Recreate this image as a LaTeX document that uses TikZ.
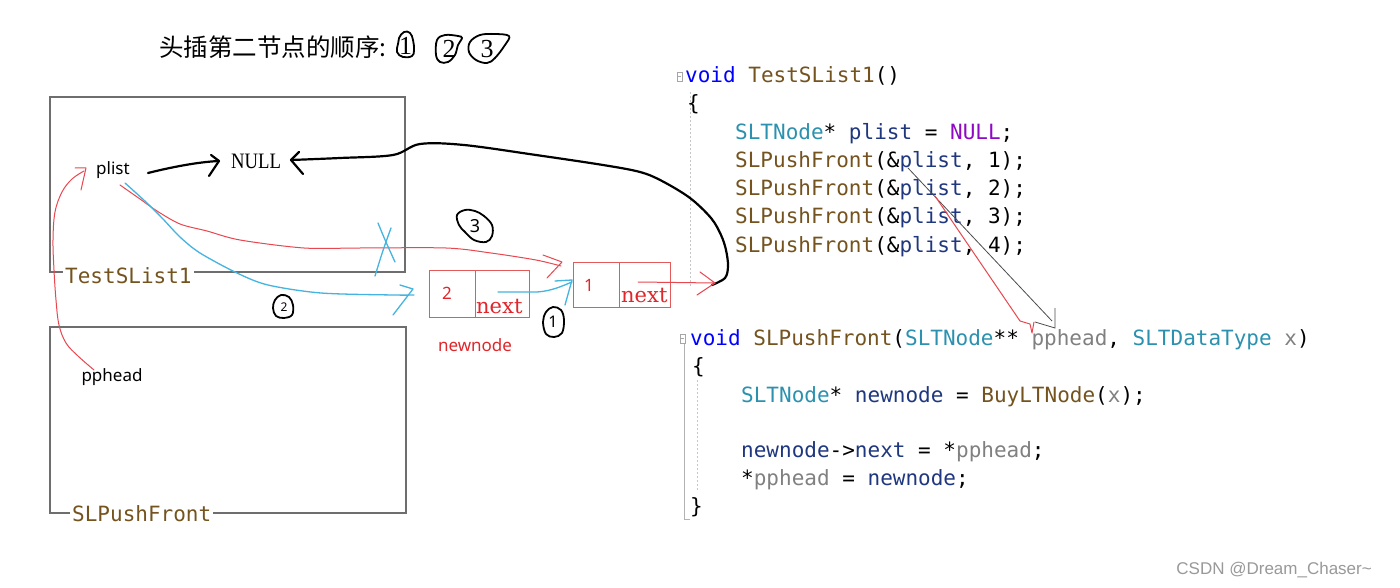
\documentclass[tikz,border=0pt]{standalone}
\usepackage{fontspec}
\usetikzlibrary{calc}
\newfontfamily\codefont{DejaVu Sans Mono}
\newfontfamily\labfont{Noto Sans}
\newfontfamily\dvserif{DejaVu Serif}
\newfontfamily\libserif{Liberation Serif}
\newfontfamily\cjkfont{Noto Sans CJK SC}
\newfontfamily\wmfont{Liberation Sans}
\definecolor{kwc}{HTML}{0000FF}
\definecolor{fnc}{HTML}{74531F}
\definecolor{tyc}{HTML}{2B91AF}
\definecolor{vac}{HTML}{1F377F}
\definecolor{mcc}{HTML}{8F08C4}
\definecolor{pac}{HTML}{808080}
\definecolor{boxgray}{HTML}{6E6E6E}
\definecolor{nodered}{HTML}{E25A5A}
\definecolor{txtred}{HTML}{E0262B}
\definecolor{penblue}{HTML}{45B4E0}
\definecolor{penred}{HTML}{E8474F}
\newcommand\ckw[1]{\textcolor{kwc}{#1}}
\newcommand\cfn[1]{\textcolor{fnc}{#1}}
\newcommand\cty[1]{\textcolor{tyc}{#1}}
\newcommand\cva[1]{\textcolor{vac}{#1}}
\newcommand\cmc[1]{\textcolor{mcc}{#1}}
\newcommand\cpa[1]{\textcolor{pac}{#1}}
\begin{document}
\begin{tikzpicture}[x=1pt,y=-1pt,
  codeline/.style={anchor=base west,inner sep=0pt,font=\codefont\fontsize{21}{21}\selectfont},
  framebox/.style={draw=boxgray,line width=1.2pt,inner sep=0pt},
  boxlab/.style={anchor=base west,fill=white,inner xsep=2pt,inner ysep=1pt,text=fnc,font=\codefont\fontsize{21}{21}\selectfont},
  lab/.style={inner sep=0pt,font=\labfont\fontsize{17}{17}\selectfont},
  cell/.style={draw=nodered,line width=0.9pt,inner sep=0pt},
  celltxt/.style={inner sep=0pt,text=txtred,font=\labfont\fontsize{17}{17}\selectfont},
  nexttxt/.style={anchor=base west,inner sep=0pt,text=txtred,font=\dvserif\fontsize{21}{21}\selectfont},
  penblack/.style={draw=black,line width=2.2pt,line cap=round,line join=round},
  penr/.style={draw=penred,line width=1pt,line cap=round,line join=round},
  penb/.style={draw=penblue,line width=1.3pt,line cap=round,line join=round},
  ring/.style={draw=black,line width=1.8pt,line join=round},
  ringdigit/.style={inner sep=0pt,font=\libserif\fontsize{26}{26}\selectfont},
  handdigit/.style={inner sep=0pt,font=\labfont\fontsize{15}{15}\selectfont}
]
\useasboundingbox[fill=white] (0,0) rectangle (1400,588);

% title
\node[anchor=west,inner sep=0pt,font=\cjkfont\fontsize{24.5}{24.5}\selectfont] (title) at (159,47) {头插第二节点的顺序:};
\draw[ring] plot[smooth cycle,tension=0.7] coordinates {(399,38) (404,32) (410,33) (413,40) (414,50) (412,56) (403,57) (397,52) (398,44)};
\node[ringdigit] (t1) at (405.5,46) {1};
\draw[ring] plot[smooth cycle,tension=0.6] coordinates {(437,40) (445,35) (458,36) (462,38) (458,45) (455,55) (448,62) (440,62) (436,55)};
\node[ringdigit] (t2) at (449,49) {2};
\draw[ring] plot[smooth cycle,tension=0.6] coordinates {(470,42) (480,35) (495,34) (509,36) (505,45) (495,58) (487,63) (476,60) (469,52)};
\node[ringdigit] (t3) at (487,49) {3};

% frames
\node[framebox,minimum width=355,minimum height=175] (tbox) at (227.5,184.5) {};
\node[boxlab] (tlab) at (63,283) {TestSList1};
\node[framebox,minimum width=356,minimum height=186] (pbox) at (228,420) {};
\node[boxlab] (plab) at (70,521) {SLPushFront};

% labels
\node[lab] (plist) at (113,170) {plist};
\node[lab] (pphead) at (112,377) {pphead};
\node[inner sep=0pt,xscale=0.85,font=\libserif\fontsize{22}{22}\selectfont] (null) at (256,161) {NULL};

% list nodes
\node[cell,minimum width=46,minimum height=47] (n2a) at (452,293.5) {};
\node[cell,minimum width=54,minimum height=47] (n2b) at (502,293.5) {};
\node[celltxt] (v2) at (447,293) {2};
\node[nexttxt] (nx2) at (476,313) {next};
\node[cell,minimum width=46,minimum height=45] (n1a) at (596,284.5) {};
\node[cell,minimum width=51,minimum height=45] (n1b) at (644.5,284.5) {};
\node[celltxt] (v1) at (589,285) {1};
\node[nexttxt] (nx1) at (621,302) {next};
\node[celltxt] (newnode) at (475,345) {newnode};

% code block 1
\draw[gray!70,line width=0.6pt] (677,72) rectangle (682,81) (678,76.5) -- (681,76.5);
\draw[gray!45,line width=0.8pt,dash pattern=on 2pt off 2pt] (690,92) -- (690,288);
\node[codeline] (c1) at (685,83) {\ckw{void} \cfn{TestSList1}()};
\node[codeline] (c2) at (687,111) {\{};
\node[codeline] (c3) at (735,139.5) {\cty{SLTNode}* \cva{plist} = \cmc{NULL};};
\node[codeline] (c4) at (735,168) {\cfn{SLPushFront}(\&\cva{plist}, 1);};
\node[codeline] (c5) at (735,196) {\cfn{SLPushFront}(\&\cva{plist}, 2);};
\node[codeline] (c6) at (735,224) {\cfn{SLPushFront}(\&\cva{plist}, 3);};
\node[codeline] (c7) at (735,252) {\cfn{SLPushFront}(\&\cva{plist}, 4);};

% code block 2
\draw[gray!70,line width=0.6pt] (680,334) rectangle (685,343) (681,338.5) -- (684,338.5);
\draw[gray!60,line width=1pt] (684,344) -- (684,519) -- (690,519);
\draw[gray!45,line width=0.8pt,dash pattern=on 2pt off 2pt] (697,380) -- (697,490);
\node[codeline] (d1) at (690,345) {\ckw{void} \cfn{SLPushFront}(\cty{SLTNode}** \cpa{pphead}, \cty{SLTDataType} \cpa{x})};
\node[codeline] (d2) at (692,373) {\{};
\node[codeline] (d3) at (741,402) {\cty{SLTNode}* \cva{newnode} = \cfn{BuyLTNode}(\cpa{x});};
\node[codeline] (d4) at (741,457) {\cva{newnode}->\cva{next} = *\cpa{pphead};};
\node[codeline] (d5) at (741,485) {*\cpa{pphead} = \cva{newnode};};
\node[codeline] (d6) at (690,513) {\}};

% handwritten circled numbers
\draw[ring] plot[smooth cycle,tension=0.6] coordinates {(457,215) (465,210) (475,211) (484,216) (492,225) (492,236) (486,242) (474,240) (465,232) (459,225)};
\node[handdigit,font=\labfont\fontsize{18}{18}\selectfont] (h3) at (475,226) {3};
\draw[ring] plot[smooth cycle,tension=0.6] coordinates {(275,300) (281,295) (289,297) (293,305) (292,315) (284,318) (276,316) (273,308)};
\node[handdigit,font=\labfont\fontsize{12}{12}\selectfont] (h2) at (284,307) {2};
\draw[ring] plot[smooth cycle,tension=0.6] coordinates {(546,312) (553,307) (561,310) (564,320) (562,333) (554,337) (546,334) (543,322)};
\node[handdigit,font=\labfont\fontsize{16}{16}\selectfont] (h1) at (553,322) {1};

% connectors
\coordinate (plistR) at (148,173);
\coordinate (nullL) at (219,161);
\draw[penblack] (plistR) .. controls (172,167) and (198,162) .. (nullL);
\draw[penblack] (211,155) -- (nullL) -- (209,176);

\coordinate (redtip) at (715,283);
\coordinate (nullR) at (291,160);
\draw[penblack] plot[smooth,tension=0.55] coordinates {(712,285) (725,278) (728,266) (726,250) (721,235) (711,218) (690,198) (662,181) (640,172) (603,165) (536,155) (464,145) (420,144) (393,155) (340,158) (nullR)};
\draw[penblack] (299,152) -- (nullR) -- (303,174);

\coordinate (n1next) at (638,282);
\draw[penr] (n1next) -- (redtip);
\draw[penr] (700,272) -- (redtip) -- (697,295);

\coordinate (plistB) at (120,185);
\coordinate (n1tip) at (561,266);
\draw[penr] plot[smooth,tension=0.5] coordinates {(plistB) (140,199) (157,211) (180,224) (207,231) (240,240) (304,248) (360,248) (446,248) (491,253) (536,260) (n1tip)};
\draw[penr] (543,255) -- (562,262) -- (547,278);

\coordinate (plistB2) at (125,183);
\coordinate (n2tip) at (414,295);
\draw[penb] plot[smooth,tension=0.5] coordinates {(plistB2) (147,203) (163,219) (180,237) (200,253) (237,273) (268,285) (321,293) (393,295) (n2tip)};
\draw[penb] (400,285) -- (413,289) -- (393,315);

\draw[penb] (378,223) .. controls (385,240) .. (395,262);
\draw[penb] (391,228) .. controls (383,250) .. (375,276);

\coordinate (n2next) at (498,292);
\coordinate (n1in) at (572,282);
\draw[penb] (n2next) -- (537,292) .. controls (552,291) and (562,286) .. (n1in);
\draw[penb] (555,281) -- (572,280) -- (565,305);

\coordinate (ppheadT) at (94,370);
\coordinate (plistL) at (84,171);
\draw[penr] plot[smooth,tension=0.6] coordinates {(ppheadT) (78,356) (66,343) (59,325) (56,300) (54,270) (53,240) (55,212) (62,192) (72,179) (plistL)};
\draw[penr] (75,168) -- (86,168) -- (81,190);

\coordinate (codeP1) at (908,168);
\coordinate (ppheadG) at (1055,328);
\draw[draw=black!70,line width=0.8pt] (codeP1) -- (1052,321);
\draw[draw=black!70,line width=0.8pt] (1035,322) -- (ppheadG) -- (1055,308);

\coordinate (codeP2) at (935,196);
\draw[penr] (codeP2) -- (1020,321) -- (1030,324) -- (1032,333) -- (1034,322);

% watermark
\node[anchor=east,inner sep=0pt,text=black!40,font=\wmfont\fontsize{17}{17}\selectfont] (wm) at (1372,570) {CSDN @Dream\_Chaser\textasciitilde};
\end{tikzpicture}
\end{document}
